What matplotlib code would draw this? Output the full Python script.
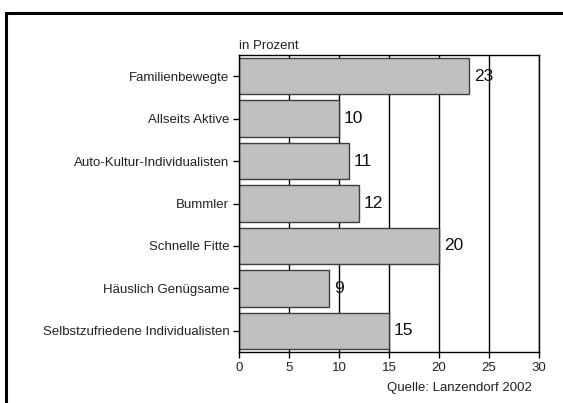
import matplotlib.pyplot as plt
from matplotlib.patches import Rectangle

plt.rcParams['font.family'] = ['Liberation Sans', 'DejaVu Sans']

# Lebensstiltypen, Anteile in Prozent
typen = ['Familienbewegte', 'Allseits Aktive', 'Auto-Kultur-Individualisten',
         'Bummler', 'Schnelle Fitte', 'Häuslich Genügsame',
         'Selbstzufriedene Individualisten']
anteile = [23, 10, 11, 12, 20, 9, 15]
xticks = [0, 5, 10, 15, 20, 25, 30]

fig = plt.figure(figsize=(5.63, 4.03), dpi=100)
ax = fig.add_axes([239 / 563, 1 - 352 / 403, 300 / 563, 297 / 403])

pos = list(range(len(typen)))
bars = ax.barh(pos, anteile, height=0.86, color='#c0c0c0',
               edgecolor='#404040', linewidth=1.0, zorder=2)
for y, v in zip(pos, anteile):
    ax.text(v + 0.5, y, str(v), va='center', ha='left',
            fontsize=12.5, color='#111111', zorder=3)

ax.set_ylim(len(typen) - 0.5, -0.5)
ax.set_yticks(pos)
ax.set_yticklabels(typen, fontsize=9.5, color='#222222')
ax.set_xlim(0, 30)
ax.set_xticks(xticks)
ax.set_xticklabels([str(t) for t in xticks], fontsize=9.5, color='#222222')

ax.xaxis.grid(True, color='black', linewidth=1.0, zorder=1)
ax.set_axisbelow(True)
for s in ax.spines.values():
    s.set_linewidth(1.0)
    s.set_color('black')
ax.tick_params(axis='both', direction='out', length=4, width=1.0, pad=3)

ax.text(0, 1.01, 'in Prozent', transform=ax.transAxes, ha='left',
        va='bottom', fontsize=9.5, color='#222222')
fig.text(532 / 563, 1 - 388 / 403, 'Quelle: Lanzendorf 2002', ha='right',
         va='center', fontsize=9.5, color='#222222')

# Rahmen um die Grafik (rechts und unten angeschnitten)
fig.patches.append(Rectangle((5.5 / 563, -0.2), 1.2, 1 - 12.5 / 403 + 0.2,
                             transform=fig.transFigure, fill=False,
                             edgecolor='black', linewidth=2.2))

fig.savefig('out.png', dpi=100)
